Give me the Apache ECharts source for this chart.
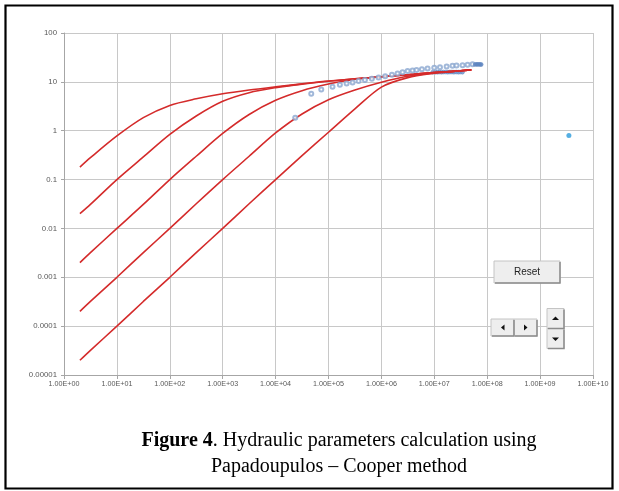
<!DOCTYPE html>
<html>
<head>
<meta charset="utf-8">
<script src="https://cdn.jsdelivr.net/npm/echarts@6/dist/echarts.min.js"></script>
<style>
html,body{margin:0;padding:0;background:#fff;}
#chart{width:619px;height:491px;}
</style>
</head>
<body>
<div id="chart"></div>
<script>
// ---- data ----
const xTickLabels = ['1.00E+00','1.00E+01','1.00E+02','1.00E+03','1.00E+04','1.00E+05','1.00E+06','1.00E+07','1.00E+08','1.00E+09','1.00E+10'];
const yTickLabels = ['0.00001','0.0001','0.001','0.01','0.1','1','10','100'];

const curveX  = [2, 3.16, 10, 31.6, 100, 316, 1000, 3160, 1e4, 3.16e4, 1e5, 3.16e5, 1e6, 3.16e6, 1e7, 2.2e7, 5e7];
const curve1Y = [0.18, 0.28, 0.78, 1.85, 3.3, 4.5, 5.7, 6.8, 7.9, 9.1, 10.4, 11.5, 12.7, 14.0, 15.5, 16.4, 17.6];
const curve2Y = [0.02, 0.031, 0.1, 0.29, 0.84, 2.0, 4.0, 6.0, 7.6, 9.0, 10.3, 11.5, 12.7, 14.0, 15.5, 16.4, 17.6];
const curve3Y = [0.002, 0.0032, 0.01, 0.031, 0.1, 0.3, 0.88, 2.15, 4.2, 6.6, 9.0, 11.3, 12.7, 14.0, 15.5, 16.4, 17.6];
const curve4Y = [0.0002, 0.00032, 0.001, 0.0032, 0.01, 0.032, 0.1, 0.3, 0.9, 2.2, 4.3, 6.8, 9.8, 13.0, 15.3, 16.4, 17.6];
const curve5Y = [0.00002, 0.000032, 0.0001, 0.00032, 0.001, 0.0032, 0.01, 0.032, 0.1, 0.31, 0.93, 2.8, 7.8, 12.2, 15.0, 16.3, 17.6];

const obsX = [2.35e4, 4.72e4, 7.3e4, 1.19e5, 1.64e5, 2.2e5, 2.85e5, 3.7e5, 4.88e5, 6.6e5, 8.83e5, 1.18e6, 1.58e6, 2.02e6, 2.51e6, 3.13e6, 3.88e6, 4.62e6, 5.83e6, 7.46e6, 9.98e6, 1.28e7, 1.71e7, 2.21e7, 2.63e7, 3.42e7, 4.26e7, 5.28e7];
const obsY = [1.85, 5.71, 7.0, 7.94, 8.73, 9.29, 9.73, 10.4, 10.9, 11.6, 12.3, 13.1, 14.0, 14.9, 15.8, 16.6, 17.1, 17.4, 18.2, 18.8, 19.4, 20.0, 20.7, 21.3, 21.5, 22.0, 22.4, 22.8];

const endX = [5.9e7, 6.3e7, 6.6e7, 7.0e7, 7.4e7, 7.7e7];
const endY = [22.7, 22.8, 22.7, 22.8, 22.7, 22.7];

const lowX = [9.3e6, 1.05e7, 1.15e7, 1.25e7, 1.37e7, 1.5e7, 1.65e7, 1.8e7, 1.97e7, 2.15e7, 2.35e7, 2.6e7, 2.85e7, 3.1e7, 3.4e7];
const lowY = [15.7, 15.8, 15.8, 15.9, 15.8, 15.9, 15.9, 15.8, 15.9, 15.9, 15.8, 15.9, 15.8, 15.9, 15.8];

const farX = [3.5e9];
const farY = [0.8];

// ---- build ----
const zip = (xs, ys) => xs.map((x, i) => [x, ys[i]]);
const curveColor = '#d42b2b';
const curves = [curve1Y, curve2Y, curve3Y, curve4Y, curve5Y].map((ys, i) => ({
  name: 'curve' + (i + 1), type: 'line', data: zip(curveX, ys),
  smooth: 0.3, showSymbol: false, symbol: 'none',
  lineStyle: { color: curveColor, width: 1.6 }, z: 3, silent: true
}));

const labelFont = '"Liberation Sans", Arial, sans-serif';
const serif = '"Liberation Serif", "Times New Roman", serif';
const chart = echarts.init(document.getElementById('chart'), null, { renderer: 'canvas' });

const btnShade = (x, y, w, h) => [
  { type: 'rect', shape: { x: x, y: y, width: w, height: h }, style: { fill: '#eeeeee', stroke: '#c4c4c4', lineWidth: 1 }, z: 100 },
  { type: 'polyline', shape: { points: [[x + w, y + 1], [x + w, y + h], [x + 1, y + h]] }, style: { stroke: '#8c8c8c', lineWidth: 1.5, fill: null }, z: 101 }
];
const tri = (pts) => ({ type: 'polygon', shape: { points: pts }, style: { fill: '#111' }, z: 102 });

chart.setOption({
  animation: false,
  backgroundColor: '#fff',
  grid: { left: 64, right: 26, top: 33, bottom: 116, containLabel: false },
  xAxis: {
    type: 'log', logBase: 10, min: 1, max: 1e10, interval: 1,
    axisLine: { show: true, lineStyle: { color: '#a6a6a6', width: 1 } },
    axisTick: { show: true, length: 4, lineStyle: { color: '#a6a6a6' } },
    splitLine: { show: true, lineStyle: { color: '#c8c8c8', width: 1 } },
    minorTick: { show: false },
    axisLabel: {
      fontSize: 7.2, color: '#595959', fontFamily: labelFont, margin: 6, hideOverlap: false,
      formatter: v => xTickLabels[Math.round(Math.log10(v))]
    }
  },
  yAxis: {
    type: 'log', logBase: 10, min: 0.00001, max: 100, interval: 1,
    axisLine: { show: true, lineStyle: { color: '#a6a6a6', width: 1 } },
    axisTick: { show: true, length: 3, lineStyle: { color: '#a6a6a6' } },
    splitLine: { show: true, lineStyle: { color: '#c8c8c8', width: 1 } },
    axisLabel: {
      fontSize: 7.8, color: '#595959', fontFamily: labelFont, margin: 7,
      formatter: v => yTickLabels[Math.round(Math.log10(v)) + 5]
    }
  },
  series: curves.concat([
    { name: 'obs', type: 'scatter', data: zip(obsX, obsY), symbol: 'emptyCircle', symbolSize: 4,
      itemStyle: { color: '#8aa6cf', borderWidth: 0.9 }, z: 4, silent: true },
    { name: 'obsEnd', type: 'scatter', data: zip(endX, endY), symbol: 'circle', symbolSize: 4.5,
      itemStyle: { color: '#5f86c0' }, z: 4, silent: true },
    { name: 'obsLow', type: 'scatter', data: zip(lowX, lowY), symbol: 'circle', symbolSize: 4,
      itemStyle: { color: '#7496c9', borderColor: '#5f86c0', borderWidth: 0.6 }, z: 2, silent: true },
    { name: 'far', type: 'scatter', data: zip(farX, farY), symbol: 'circle', symbolSize: 5,
      itemStyle: { color: '#2b9bdc' }, z: 4, silent: true }
  ]),
  graphic: [
    { type: 'rect', shape: { x: 5.5, y: 5.5, width: 607, height: 483 }, style: { fill: null, stroke: '#000', lineWidth: 2.2 }, z: 100 },
    ...btnShade(494, 261, 66, 22),
    { type: 'text', x: 527, y: 272, style: { text: 'Reset', fontSize: 10, fontFamily: labelFont, fill: '#222', align: 'center', verticalAlign: 'middle' }, z: 103 },
    ...btnShade(491, 319, 23, 17),
    ...btnShade(514, 319, 23, 17),
    tri([[501, 327.5], [504.5, 324.5], [504.5, 330.5]]),
    tri([[527.5, 327.5], [524, 324.5], [524, 330.5]]),
    ...btnShade(547, 308.5, 17, 20),
    ...btnShade(547, 328.5, 17, 20),
    tri([[555.5, 316.5], [552, 320], [559, 320]]),
    tri([[555.5, 341], [552, 337.5], [559, 337.5]]),
    { type: 'text', x: 339, y: 441, style: {
        text: '{b|Figure 4}{n|. Hydraulic parameters calculation using}',
        rich: {
          b: { fontFamily: serif, fontSize: 20, fontWeight: 'bold', fill: '#000' },
          n: { fontFamily: serif, fontSize: 20, fill: '#000' }
        },
        align: 'center', verticalAlign: 'middle' }, z: 100 },
    { type: 'text', x: 339, y: 467, style: {
        text: 'Papadoupulos – Cooper method', fontFamily: serif, fontSize: 20, fill: '#000',
        align: 'center', verticalAlign: 'middle' }, z: 100 }
  ]
});
</script>
</body>
</html>
